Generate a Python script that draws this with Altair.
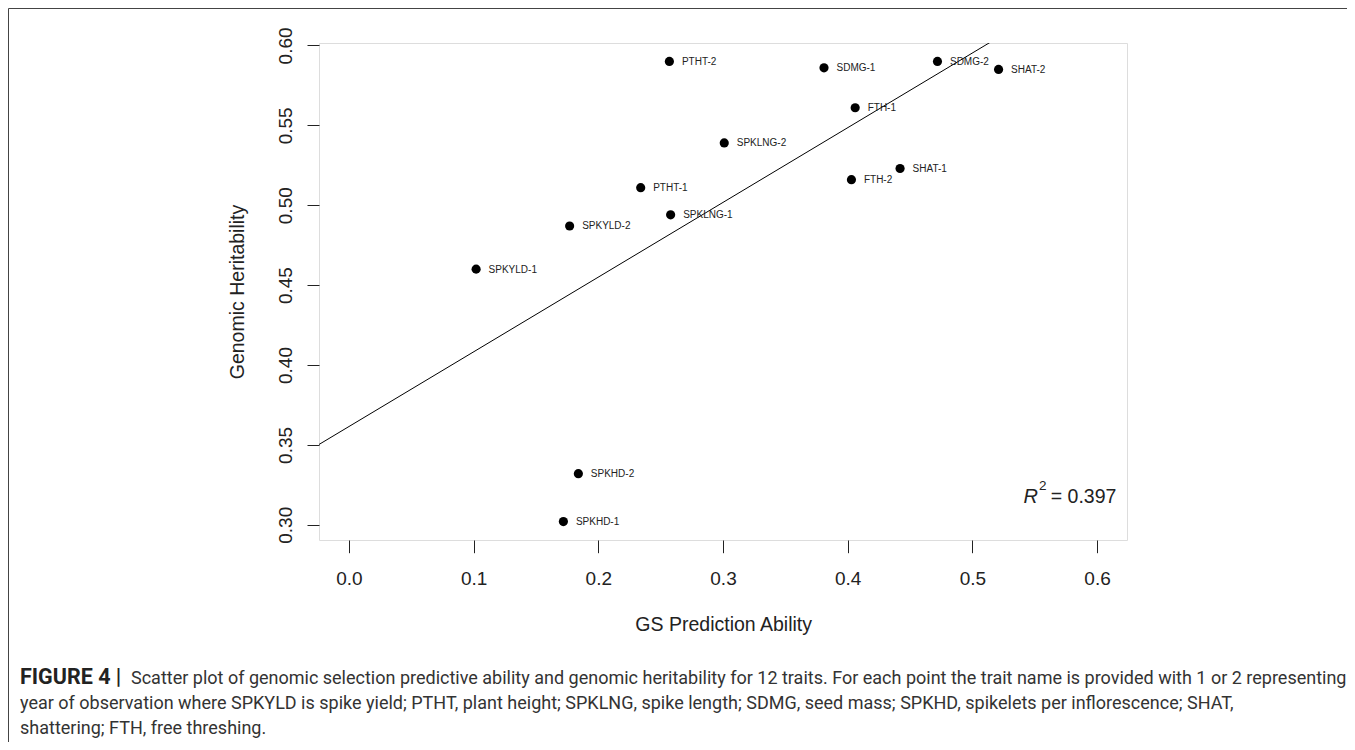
import altair as alt
import pandas as pd

# ---- data ----
traits = ["PTHT-2", "SDMG-1", "SDMG-2", "SHAT-2", "FTH-1", "SPKLNG-2", "SHAT-1",
          "FTH-2", "PTHT-1", "SPKLNG-1", "SPKYLD-2", "SPKYLD-1", "SPKHD-2", "SPKHD-1"]
gs_ability = [0.257, 0.381, 0.472, 0.521, 0.406, 0.301, 0.442,
              0.403, 0.234, 0.258, 0.177, 0.102, 0.184, 0.172]
heritability = [0.590, 0.586, 0.590, 0.585, 0.561, 0.539, 0.523,
                0.516, 0.511, 0.494, 0.487, 0.460, 0.332, 0.302]
x_ticks = [0.0, 0.1, 0.2, 0.3, 0.4, 0.5, 0.6]
y_ticks = [0.30, 0.35, 0.40, 0.45, 0.50, 0.55, 0.60]
x_limits = [0.0, 0.6]
r2_text = "= 0.397"

caption_bold = "FIGURE 4 |"
caption_lines = [
    "Scatter plot of genomic selection predictive ability and genomic heritability for 12 traits. For each point the trait name is provided with 1 or 2 representing",
    "year of observation where SPKYLD is spike yield; PTHT, plant height; SPKLNG, spike length; SDMG, seed mass; SPKHD, spikelets per inflorescence; SHAT,",
    "shattering; FTH, free threshing.",
]

df = pd.DataFrame({"trait": traits, "gs": gs_ability, "h": heritability})

# R-style 4% axis extension
xr = x_limits[1] - x_limits[0]
x_dom = [x_limits[0] - 0.04 * xr, x_limits[1] + 0.04 * xr]
yr = max(heritability) - min(heritability)
y_dom = [min(heritability) - 0.04 * yr, max(heritability) + 0.04 * yr]

W, H = 808, 497
PL, PT = 311, 35
TOTAL_W, TOTAL_H = 1339, 734

FONT = "Liberation Sans"
CAPFONT = "Roboto"
CAPSIZE = 18
CAPCOLOR = "#333"

xs = alt.Scale(domain=x_dom, nice=False, zero=False)
ys = alt.Scale(domain=y_dom, nice=False, zero=False)

x_enc = alt.X("gs:Q", scale=xs, axis=alt.Axis(
    values=x_ticks, format=".1f", title="GS Prediction Ability",
    labelFontSize=19, labelFont=FONT, labelColor="#222", labelPadding=16.4,
    tickSize=12.7, tickColor="#222", tickWidth=1, domain=False, grid=False,
    titleFont=FONT, titleFontSize=19.5, titleFontWeight="normal", titleColor="#222",
    titleX=404.2, titleY=84.6, titleBaseline="middle", titleAlign="center"))
y_enc = alt.Y("h:Q", scale=ys, axis=alt.Axis(
    values=y_ticks, format=".2f", title="Genomic Heritability",
    labelFontSize=19, labelFont=FONT, labelColor="#222", labelAngle=270,
    labelAlign="center", labelBaseline="middle", labelPadding=21.5,
    tickSize=12, tickColor="#222", tickWidth=1, domain=False, grid=False,
    titleFont=FONT, titleFontSize=19.5, titleFontWeight="normal", titleColor="#222",
    titleAngle=270, titleX=-81.9, titleY=H / 2, titleBaseline="middle", titleAlign="center"))

base = alt.Chart(df)

points = base.mark_circle(size=84, color="black", opacity=1).encode(x=x_enc, y=y_enc)

labels = base.mark_text(align="left", baseline="middle", dx=12.5, dy=0.5,
                        fontSize=10, font=FONT, color="#222").encode(
    x=alt.X("gs:Q", scale=xs), y=alt.Y("h:Q", scale=ys), text="trait:N")

reg = base.transform_regression("gs", "h", extent=x_dom).mark_line(
    color="black", strokeWidth=1, clip=True).encode(
    x=alt.X("gs:Q", scale=xs), y=alt.Y("h:Q", scale=ys))

ann = alt.Chart(pd.DataFrame({"t": [r2_text]}))
r_main = ann.mark_text(align="right", baseline="alphabetic", fontSize=19.5,
                       font=FONT, color="#222").encode(
    x=alt.value(797.4), y=alt.value(459.7), text="t:N")
r_R = ann.mark_text(align="right", baseline="alphabetic", fontSize=20,
                    font=FONT, fontStyle="italic", color="#222", text="R").encode(
    x=alt.value(719), y=alt.value(459.7))
r_sup = ann.mark_text(align="left", baseline="alphabetic", fontSize=13.5,
                      font=FONT, color="#222", text="2").encode(
    x=alt.value(720), y=alt.value(447))

# outer figure frame (top and left edges)
frame_top = ann.mark_rule(color="#444", strokeWidth=1).encode(
    x=alt.value(-PL + 0.5), x2=alt.value(TOTAL_W - PL), y=alt.value(-PT + 0.5))
frame_left = ann.mark_rule(color="#444", strokeWidth=1).encode(
    x=alt.value(-PL + 0.5), y=alt.value(-PT + 0.5), y2=alt.value(TOTAL_H - PT))

# caption (page baselines 684 / 709 / 734)
cap_df = pd.DataFrame({"line": caption_lines, "row": [0, 1, 2]})
cap_bold = ann.mark_text(align="left", baseline="alphabetic", fontSize=21.5,
                         font=CAPFONT, fontWeight="bold", color="#222",
                         text=caption_bold).encode(
    x=alt.value(20 - 8 - PL), y=alt.value(684 - 8 - PT))
cap1 = alt.Chart(cap_df).transform_filter("datum.row == 0").mark_text(
    align="left", baseline="alphabetic", fontSize=CAPSIZE, font=CAPFONT, color=CAPCOLOR).encode(
    x=alt.value(131 - 8 - PL), y=alt.value(684 - 8 - PT), text="line:N")
cap2 = alt.Chart(cap_df).transform_filter("datum.row == 1").mark_text(
    align="left", baseline="alphabetic", fontSize=CAPSIZE, font=CAPFONT, color=CAPCOLOR).encode(
    x=alt.value(20 - 8 - PL), y=alt.value(709 - 8 - PT), text="line:N")
cap3 = alt.Chart(cap_df).transform_filter("datum.row == 2").mark_text(
    align="left", baseline="alphabetic", fontSize=CAPSIZE, font=CAPFONT, color=CAPCOLOR).encode(
    x=alt.value(20 - 8 - PL), y=alt.value(734 - 8 - PT), text="line:N")

chart = alt.layer(
    reg, points, labels, r_main, r_R, r_sup, frame_top, frame_left,
    cap_bold, cap1, cap2, cap3
).properties(
    width=W, height=H,
    autosize=alt.AutoSizeParams(type="none"),
    padding={"left": PL, "top": PT, "right": TOTAL_W - PL - W, "bottom": TOTAL_H - PT - H},
).configure_view(stroke="#222", strokeWidth=1).configure(background="white")

chart.save("out.html", embed_options={"renderer": "svg", "actions": False})
